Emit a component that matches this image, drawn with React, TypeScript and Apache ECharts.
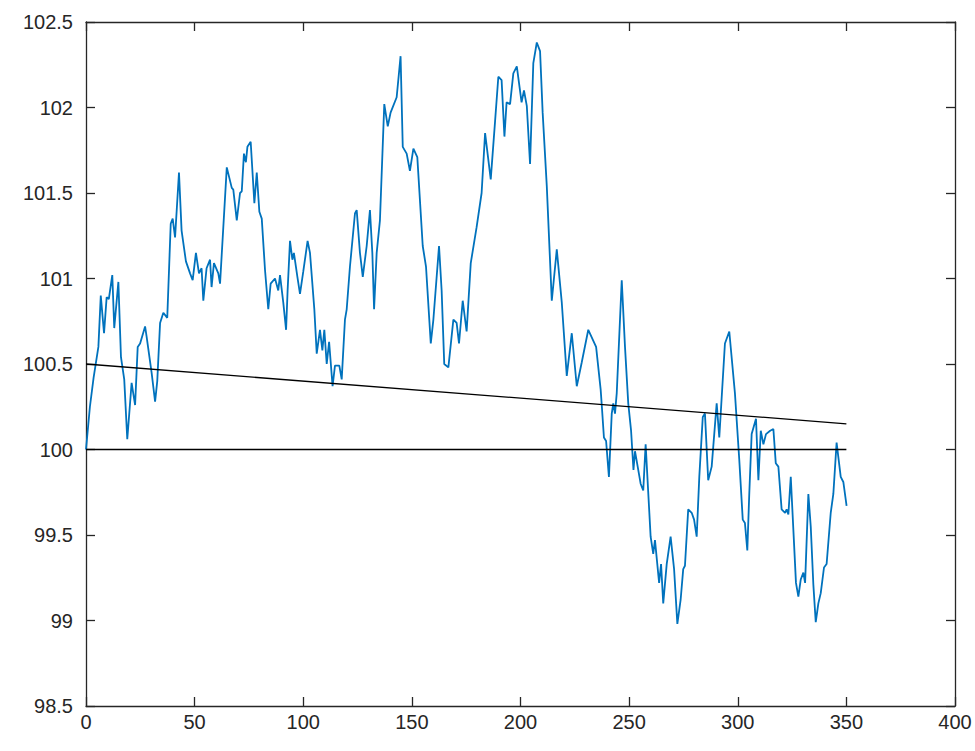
import React, { useEffect, useRef } from "react";
import * as echarts from "echarts";

const seriesX: number[] = [
  0, 1.8, 3.5, 5.7, 6.8, 8.3, 9.5, 10.5, 12.1, 13.0, 14.9, 16.1, 17.6, 19.0, 21.0, 22.6, 23.8, 24.9, 27.2, 27.9,
  30.2, 31.8, 32.8, 34.1, 35.6, 37.4, 39.0, 39.9, 41.0, 42.8, 44.0, 46.0, 47.9, 49.1, 50.6, 52.0, 53.2, 54.0, 55.5, 57.1,
  57.8, 58.9, 60.9, 61.7, 64.8, 67.1, 67.8, 69.4, 70.9, 71.7, 72.7, 73.6, 74.3, 75.8, 77.5, 78.6, 79.8, 80.9, 82.4, 83.9,
  85.0, 87.0, 88.5, 89.3, 90.8, 92.1, 92.8, 93.9, 95.0, 95.7, 97.3, 98.5, 100.0, 102.0, 103.1, 105.1, 106.2, 107.7, 108.8, 109.7,
  110.8, 111.9, 113.5, 114.6, 116.6, 117.7, 119.2, 120.0, 121.5, 123.8, 124.6, 126.1, 127.4, 129.2, 130.7, 131.8, 132.6, 133.8, 135.3, 137.3,
  138.9, 140.2, 143.0, 144.8, 145.8, 147.6, 149.1, 150.7, 152.5, 155.0, 156.5, 158.7, 159.9, 162.5, 163.7, 164.9, 166.8, 169.1, 170.6, 171.7,
  173.4, 175.2, 177.1, 179.8, 182.1, 183.7, 186.3, 188.3, 189.8, 191.3, 192.6, 193.6, 195.2, 196.7, 198.3, 200.5, 201.6, 202.9, 204.4, 205.9,
  207.5, 209.0, 210.2, 212.1, 214.4, 216.7, 219.0, 221.3, 223.6, 225.9, 228.2, 231.2, 234.8, 236.9, 237.4, 238.4, 239.4, 240.7, 242.0, 242.7,
  243.5, 244.3, 246.6, 248.1, 249.6, 250.9, 252.0, 252.7, 253.8, 255.3, 256.5, 257.6, 259.9, 261.1, 261.9, 263.8, 264.7, 265.7, 267.3, 269.1,
  270.7, 272.2, 273.7, 274.9, 275.7, 277.2, 278.8, 279.9, 281.1, 282.3, 283.9, 284.9, 286.4, 288.0, 290.3, 291.5, 294.1, 296.1, 298.7, 300.7,
  302.3, 303.3, 304.4, 305.3, 306.4, 308.4, 309.5, 310.6, 311.8, 313.0, 314.9, 316.4, 317.5, 318.7, 320.2, 321.8, 322.5, 323.3, 324.4, 325.6,
  326.8, 327.9, 329.0, 330.2, 331.0, 332.5, 333.6, 334.8, 335.9, 337.1, 338.2, 339.7, 340.9, 342.8, 344.0, 345.5, 347.4, 348.6, 350.1,
];
const seriesY: number[] = [
  100.0, 100.25, 100.42, 100.6, 100.9, 100.68, 100.89, 100.88, 101.02, 100.71, 100.98, 100.54, 100.41, 100.06, 100.39, 100.26, 100.6, 100.62, 100.72, 100.66,
  100.45, 100.28, 100.4, 100.74, 100.8, 100.77, 101.32, 101.35, 101.24, 101.62, 101.28, 101.1, 101.03, 100.99, 101.15, 101.03, 101.06, 100.87, 101.06, 101.11,
  100.95, 101.09, 101.03, 100.97, 101.65, 101.53, 101.52, 101.34, 101.5, 101.51, 101.73, 101.68, 101.77, 101.8, 101.44, 101.62, 101.39, 101.35, 101.05, 100.82,
  100.97, 101.0, 100.93, 101.02, 100.86, 100.7, 100.93, 101.22, 101.11, 101.15, 101.01, 100.91, 101.04, 101.22, 101.15, 100.82, 100.56, 100.7, 100.58, 100.7,
  100.5, 100.63, 100.37, 100.49, 100.49, 100.41, 100.76, 100.82, 101.07, 101.38, 101.4, 101.15, 101.01, 101.19, 101.4, 101.15, 100.82, 101.15, 101.34, 102.02,
  101.89, 101.97, 102.06, 102.3, 101.77, 101.73, 101.63, 101.76, 101.71, 101.19, 101.07, 100.62, 100.76, 101.19, 100.93, 100.5, 100.48, 100.76, 100.74, 100.62,
  100.87, 100.69, 101.09, 101.3, 101.5, 101.85, 101.58, 101.92, 102.18, 102.16, 101.83, 102.03, 102.02, 102.2, 102.24, 102.03, 102.1, 102.01, 101.67, 102.26,
  102.38, 102.33, 101.97, 101.54, 100.87, 101.17, 100.86, 100.43, 100.68, 100.37, 100.51, 100.7, 100.6, 100.35, 100.26, 100.07, 100.05, 99.84, 100.21, 100.27,
  100.21, 100.33, 100.99, 100.6, 100.27, 100.11, 99.88, 99.99, 99.91, 99.8, 99.76, 100.03, 99.49, 99.39, 99.47, 99.22, 99.33, 99.1, 99.33, 99.49,
  99.3, 98.98, 99.12, 99.3, 99.32, 99.65, 99.63, 99.59, 99.49, 99.84, 100.19, 100.21, 99.82, 99.9, 100.27, 100.07, 100.62, 100.69, 100.33, 99.94,
  99.59, 99.57, 99.41, 99.74, 100.09, 100.18, 99.82, 100.11, 100.03, 100.09, 100.11, 100.12, 99.92, 99.9, 99.65, 99.63, 99.65, 99.62, 99.84, 99.53,
  99.22, 99.14, 99.24, 99.28, 99.22, 99.74, 99.55, 99.21, 98.99, 99.1, 99.16, 99.31, 99.33, 99.63, 99.74, 100.04, 99.84, 99.81, 99.67,
];

// Reference lines: [x, y] end points
const flatLineX: number[] = [0, 350];
const flatLineY: number[] = [100, 100];
const trendLineX: number[] = [0, 350];
const trendLineY: number[] = [100.5, 100.15];

const xTicks = { min: 0, max: 400, interval: 50 };
const yTicks = { min: 98.5, max: 102.5, interval: 0.5 };

const AXIS_COLOR = "#262626";
const FONT = "'Liberation Sans', Arial, Helvetica, sans-serif";

export default function App() {
  const ref = useRef<HTMLDivElement>(null);

  useEffect(() => {
    if (!ref.current) return;
    const chart = echarts.init(ref.current, null, { renderer: "svg" });

    const pair = (xs: number[], ys: number[]) => xs.map((x, i) => [x, ys[i]]);

    const axisLine = { show: true, onZero: false, lineStyle: { color: AXIS_COLOR, width: 1.3 } };
    const axisTick = { show: true, inside: true, length: 9, lineStyle: { color: AXIS_COLOR, width: 1.3 } };
    const labelStyle = { color: AXIS_COLOR, fontSize: 20, fontFamily: FONT };

    chart.setOption({
      animation: false,
      backgroundColor: "#ffffff",
      grid: { left: 86, right: 20, top: 22, bottom: 45, containLabel: false },
      xAxis: [
        {
          type: "value",
          position: "bottom",
          ...xTicks,
          axisLine,
          axisTick,
          splitLine: { show: false },
          axisLabel: { ...labelStyle, margin: 6, showMinLabel: true, showMaxLabel: true },
        },
        {
          type: "value",
          position: "top",
          ...xTicks,
          axisLine,
          axisTick,
          splitLine: { show: false },
          axisLabel: { show: false },
        },
      ],
      yAxis: [
        {
          type: "value",
          position: "left",
          ...yTicks,
          axisLine,
          axisTick,
          splitLine: { show: false },
          axisLabel: {
            ...labelStyle,
            margin: 13,
            showMinLabel: true,
            showMaxLabel: true,
            formatter: (v: number) => String(Math.round(v * 10) / 10),
          },
        },
        {
          type: "value",
          position: "right",
          ...yTicks,
          axisLine,
          axisTick,
          splitLine: { show: false },
          axisLabel: { show: false },
        },
      ],
      series: [
        {
          type: "line",
          data: pair(seriesX, seriesY),
          showSymbol: false,
          symbol: "none",
          lineStyle: { color: "#0072BD", width: 1.8 },
          z: 2,
        },
        {
          type: "line",
          data: pair(flatLineX, flatLineY),
          showSymbol: false,
          symbol: "none",
          lineStyle: { color: "#000000", width: 1.3 },
          z: 3,
        },
        {
          type: "line",
          data: pair(trendLineX, trendLineY),
          showSymbol: false,
          symbol: "none",
          lineStyle: { color: "#000000", width: 1.3 },
          z: 3,
        },
      ],
    });

    return () => chart.dispose();
  }, []);

  return (
    <div
      ref={ref}
      style={{ position: "fixed", left: 0, top: 0, width: 975, height: 751, background: "#fff" }}
    />
  );
}
